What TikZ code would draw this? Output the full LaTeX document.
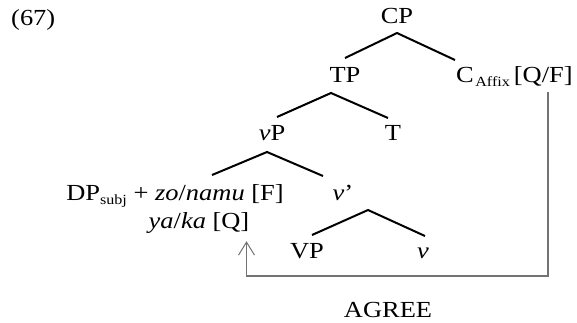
\documentclass[tikz,border=0pt]{standalone}
\usepackage{fontspec}
\setmainfont[FakeStretch=1.15]{Liberation Serif}
\usepackage{tikz}
\usetikzlibrary{arrows.meta,positioning,calc}
\newcommand{\lowtx}[1]{\raisebox{-4pt}{\fontsize{14}{14}\selectfont #1}}
\tikzset{
  lab/.style={anchor=base,inner sep=0pt},
  ag/.style={draw=black!55,line width=1.3pt},
  agtip/.style={-{Straight Barb[length=13pt,width=16pt,line width=1pt]}},
}
\begin{document}
\begin{tikzpicture}[x=1pt,y=-1pt,font=\fontsize{23}{27}\selectfont,
  br/.style={line width=2pt}]
  \useasboundingbox (0,0) rectangle (577,322);
  \node[lab,anchor=base west] (ex) at (11,25) {(67)};
  \node[lab] (cp) at (397,23) {CP};
  \node[lab] (tp) at (345,82) {TP};
  \node[lab,anchor=base west] (caff) at (456,82) {C\kern1.5pt\lowtx{Affix}\kern4pt[Q/F]};
  \node[lab] (vp) at (272,140) {\textit{v}P};
  \node[lab] (t) at (393,140) {T};
  \node[lab] (dp) at (175,200) {DP\lowtx{subj} + \textit{zo}/\textit{namu} [F]};
  \node[lab] (ya) at (199,228) {\textit{ya}/\textit{ka} [Q]};
  \node[lab] (vbar) at (343,200) {\textit{v}’};
  \node[lab] (vpp) at (307,258) {VP};
  \node[lab] (vh) at (423,258) {\textit{v}};
  \node[lab] (agree) at (388,317) {AGREE};
  % branches
  \draw[br] ([yshift=24pt]tp.base) -- ([yshift=-10pt]cp.base)
    -- ([xshift=-1pt,yshift=22pt]caff.base west);
  \draw[br] ([xshift=5pt,yshift=23pt]vp.base) -- ([xshift=-14pt,yshift=-11pt]tp.base)
    -- ([xshift=-5pt,yshift=22pt]t.base);
  \draw[br] ([xshift=37pt,yshift=25pt]dp.base) -- ([xshift=-5pt,yshift=-12pt]vp.base)
    -- ([xshift=-20pt,yshift=24pt]vbar.base);
  \draw[br] ([xshift=5pt,yshift=23pt]vpp.base) -- ([xshift=25pt,yshift=-10pt]vbar.base)
    -- ([xshift=2pt,yshift=22pt]vh.base);
  % agree
  \coordinate (lo) at (548,276);
  \draw[ag,agtip] ($(caff.south -| lo)+(0,6)$) -- (lo) -| ([xshift=-3pt,yshift=-8pt]ya.south east);
\end{tikzpicture}
\end{document}
